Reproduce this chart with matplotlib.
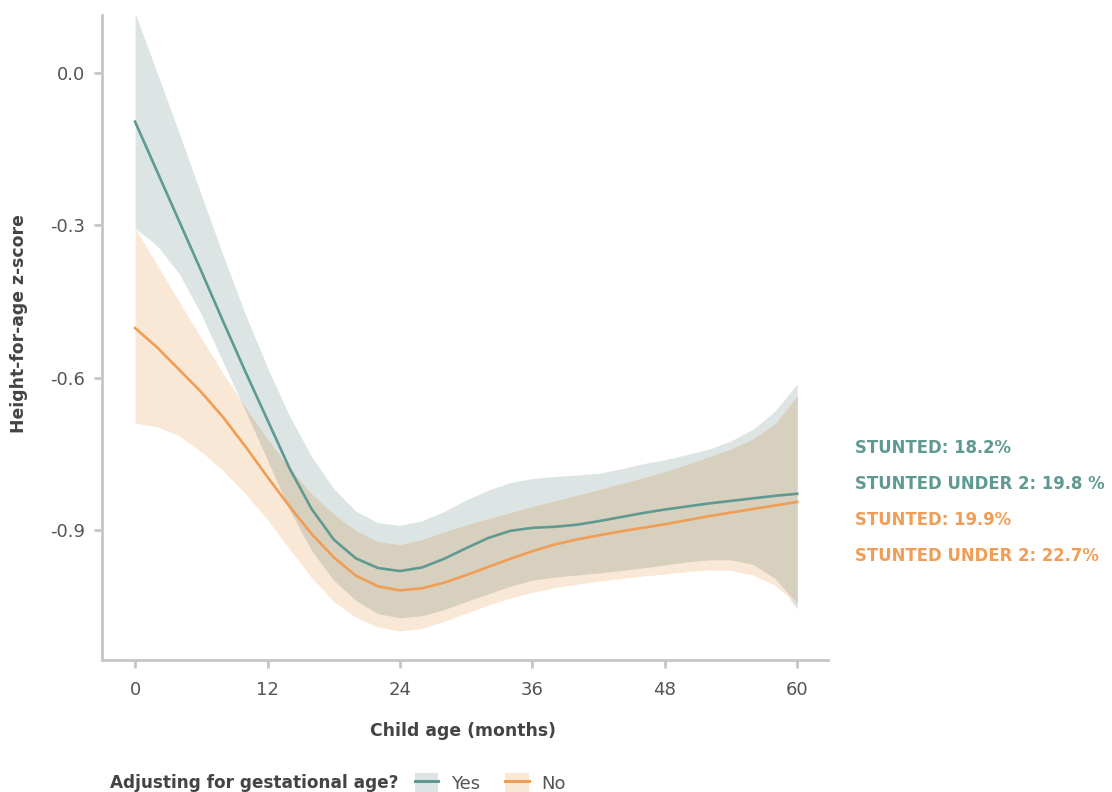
import numpy as np
import matplotlib.pyplot as plt
from matplotlib.patches import Patch
from matplotlib.lines import Line2D

plt.rcParams['axes.unicode_minus'] = False
plt.rcParams['font.family'] = ['DejaVu Sans']

# child age in months
months = np.arange(0, 61, 2)

# adjusted for gestational age (Yes)
yes_fit = [-0.096, -0.194, -0.292, -0.390, -0.490, -0.588, -0.683, -0.778, -0.858, -0.918,
           -0.955, -0.974, -0.980, -0.973, -0.956, -0.935, -0.915, -0.901, -0.895, -0.893,
           -0.889, -0.882, -0.874, -0.866, -0.859, -0.853, -0.847, -0.842, -0.837, -0.832, -0.828]
yes_hi = [0.118, 0.000, -0.118, -0.240, -0.360, -0.475, -0.580, -0.675, -0.755, -0.818,
          -0.862, -0.885, -0.890, -0.881, -0.863, -0.840, -0.821, -0.806, -0.798, -0.794,
          -0.791, -0.788, -0.779, -0.769, -0.761, -0.751, -0.740, -0.724, -0.701, -0.665, -0.612]
yes_lo = [-0.305, -0.340, -0.395, -0.475, -0.570, -0.665, -0.762, -0.860, -0.940, -0.998,
          -1.038, -1.064, -1.072, -1.068, -1.056, -1.040, -1.025, -1.010, -0.998, -0.992,
          -0.988, -0.984, -0.979, -0.974, -0.968, -0.962, -0.958, -0.958, -0.967, -0.995, -1.055]

# not adjusted (No)
no_fit = [-0.502, -0.540, -0.584, -0.628, -0.678, -0.735, -0.795, -0.853, -0.907, -0.953,
          -0.989, -1.010, -1.018, -1.014, -1.003, -0.988, -0.972, -0.956, -0.941, -0.928,
          -0.918, -0.910, -0.902, -0.895, -0.888, -0.880, -0.872, -0.865, -0.858, -0.851, -0.844]
no_hi = [-0.305, -0.378, -0.450, -0.522, -0.592, -0.658, -0.720, -0.778, -0.828, -0.868,
         -0.900, -0.922, -0.928, -0.918, -0.903, -0.889, -0.877, -0.865, -0.853, -0.842,
         -0.831, -0.820, -0.808, -0.797, -0.784, -0.770, -0.755, -0.740, -0.720, -0.690, -0.635]
no_lo = [-0.689, -0.696, -0.714, -0.745, -0.783, -0.828, -0.879, -0.937, -0.993, -1.040,
         -1.071, -1.090, -1.098, -1.093, -1.079, -1.063, -1.047, -1.033, -1.022, -1.013,
         -1.006, -1.000, -0.995, -0.990, -0.986, -0.981, -0.978, -0.979, -0.988, -1.008, -1.045]

x_ticks = [0, 12, 24, 36, 48, 60]
y_ticks = [0.0, -0.3, -0.6, -0.9]

notes = ["STUNTED: 18.2%", "STUNTED UNDER 2: 19.8 %", "STUNTED: 19.9%", "STUNTED UNDER 2: 22.7%"]

TEAL = '#5f9a92'
TEAL_BAND = '#dce5e4'
ORANGE = '#f09d55'
ORANGE_BAND = '#fae8d7'
OVERLAP = '#d8d0be'
AXIS = '#c9c5c6'
TXT = '#555555'
DARK = '#444444'

fig = plt.figure(figsize=(11.12, 7.92), dpi=100)
ax = fig.add_axes([0.0917, 0.1667, 0.653, 0.8144])

ax.fill_between(months, yes_lo, yes_hi, color=TEAL_BAND, lw=0)
ax.fill_between(months, no_lo, no_hi, color=ORANGE_BAND, lw=0)
lo = np.maximum(yes_lo, no_lo)
hi = np.minimum(yes_hi, no_hi)
ax.fill_between(months, lo, hi, where=hi > lo, interpolate=True, color=OVERLAP, lw=0)

ax.plot(months, yes_fit, color=TEAL, lw=1.9)
ax.plot(months, no_fit, color=ORANGE, lw=1.9)

ax.set_xlim(-3, 62.8)
ax.set_ylim(-1.155, 0.114)
ax.set_xticks(x_ticks)
ax.set_yticks(y_ticks)
ax.set_yticklabels(["%.1f" % v for v in y_ticks])

for s in ['top', 'right']:
    ax.spines[s].set_visible(False)
for s in ['left', 'bottom']:
    ax.spines[s].set_color(AXIS)
    ax.spines[s].set_linewidth(2)
ax.tick_params(axis='both', length=6, width=2, color=AXIS, labelsize=13, labelcolor=TXT)
ax.tick_params(axis='x', pad=9)
ax.tick_params(axis='y', pad=6)

fig.text(0.4164, 0.077, "Child age (months)", ha='center', va='center',
         fontsize=12.4, fontweight='bold', color=DARK)
fig.text(0.017, 0.592, "Height-for-age z-score", ha='center', va='center', rotation=90,
         fontsize=12.4, fontweight='bold', color=DARK)

note_colors = [TEAL, TEAL, ORANGE, ORANGE]
note_y = [0.4343, 0.3889, 0.3434, 0.298]
for txt, c, y in zip(notes, note_colors, note_y):
    fig.text(0.769, y, txt, ha='left', va='center', fontsize=11.9, fontweight='bold', color=c)

fig.text(0.099, 0.0114, "Adjusting for gestational age?", ha='left', va='center',
         fontsize=12.2, fontweight='bold', color=DARK)
handles = [(Patch(facecolor=TEAL_BAND, lw=0), Line2D([], [], color=TEAL, lw=2.2)),
           (Patch(facecolor=ORANGE_BAND, lw=0), Line2D([], [], color=ORANGE, lw=2.2))]
leg = fig.legend(handles, ["Yes", "No"], loc='center left', bbox_to_anchor=(0.373, 0.0114),
                 ncol=2, frameon=False, fontsize=13, handlelength=1.3, handleheight=1.2,
                 handletextpad=0.7, columnspacing=1.4, borderaxespad=0, borderpad=0)
for t in leg.get_texts():
    t.set_color(TXT)

fig.savefig('out.png', dpi=100)
